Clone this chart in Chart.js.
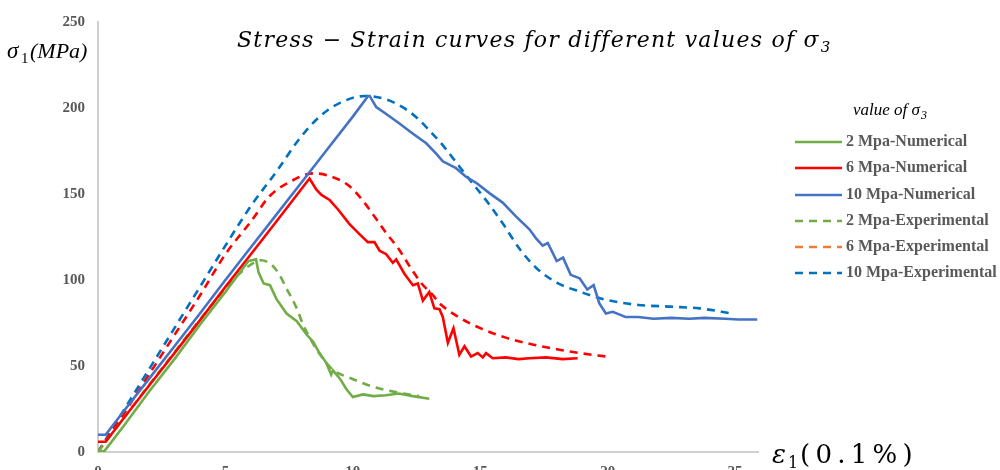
<!DOCTYPE html>
<html><head><meta charset="utf-8">
<script src="https://cdn.jsdelivr.net/npm/chart.js@4"></script>
<style>html,body{margin:0;padding:0;overflow:hidden;background:#fff}#wrap{width:1000px;height:470px;overflow:hidden}</style>
</head><body><div id="wrap"><canvas id="c" width="1000" height="490"></canvas></div>
<script>
// ---------- DATA ----------
const xTickValues = [0, 5, 10, 15, 20, 25];
const yTickValues = [0, 50, 100, 150, 200, 250];
const seriesNames = ['2 Mpa-Numerical', '6 Mpa-Numerical', '10 Mpa-Numerical',
                     '2 Mpa-Experimental', '6 Mpa-Experimental', '10 Mpa-Experimental'];

const num2X = [0, 0.25, 1, 2, 3, 4, 5, 5.9, 6.2, 6.3, 6.5, 6.75, 7.0, 7.4, 7.8, 8.2, 8.45, 8.65, 8.95, 9.15, 9.22, 9.5, 9.75, 10.0, 10.4, 10.8, 11.3, 11.8, 12.35, 13.0];
const num2Y = [0, 0.5, 15, 35, 54, 74, 93, 111, 112, 104.5, 98, 97, 89, 80.5, 76, 68, 64, 58.5, 52, 45, 47.5, 42.5, 36.5, 32, 33.5, 32.5, 33, 34, 32.5, 31];

const num6X = [0, 0.3, 1, 2, 3, 4, 5, 6, 7, 8.3, 8.57, 8.77, 9.09, 9.42, 9.87, 10.27, 10.59, 10.85, 11.05, 11.31, 11.57, 11.7, 12.03, 12.36, 12.55, 12.75, 13.0, 13.2, 13.4, 13.53, 13.73, 13.95, 14.18, 14.38, 14.64, 14.9, 15.1, 15.23, 15.49, 16.0, 16.5, 16.93, 17.58, 18.23, 18.82];
const num6Y = [6, 6, 19.5, 38.5, 57.5, 76.5, 96, 115, 134, 159, 152.5, 149.5, 146.5, 141, 132.5, 126.5, 122, 122, 117, 115, 110, 112, 103.5, 97, 98, 88, 93, 83.5, 83, 78.5, 63.5, 72, 56.5, 61.5, 55.5, 57.5, 55, 57.5, 54.5, 55, 54, 54.5, 55, 54, 54.5];

const num10X = [0, 0.3, 1, 2, 3, 4, 5, 6, 7, 8, 9, 10, 10.6, 10.66, 10.92, 11.31, 11.83, 12.36, 12.88, 13.27, 13.53, 14.05, 14.44, 14.84, 15.36, 15.88, 16.4, 16.93, 17.2, 17.45, 17.65, 18.0, 18.25, 18.55, 18.9, 19.2, 19.45, 19.67, 19.93, 20.2, 20.45, 20.7, 21.2, 21.8, 22.5, 23.2, 23.8, 24.6, 25.15, 25.87];
const num10Y = [10, 10, 23.5, 42.5, 61.5, 80.5, 100, 119, 138, 157, 176, 195, 207, 207, 200.5, 196.5, 191, 185, 179.5, 173.5, 169, 165, 160, 156.5, 150.5, 145, 137, 129.5, 124, 120, 121.5, 111, 113, 103, 101, 94.5, 97, 86.5, 80.5, 81.5, 80, 78.5, 78.5, 77.5, 78, 77.5, 78, 77.5, 77, 77];

const exp2X = [0, 1, 2, 3, 4, 5, 5.5, 6.0, 6.4, 6.8, 7.1, 7.4, 7.8, 8.05, 8.4, 8.7, 9.2, 9.9, 10.9, 11.8, 12.6];
const exp2Y = [0, 19.5, 39, 58, 77, 95, 103, 109, 111.5, 109, 103.5, 95, 83.5, 74, 64, 57, 48, 43, 37.5, 34.5, 32.5];

const exp6X = [0, 1, 2, 3, 4, 5, 6, 6.75, 7.65, 8.2, 8.5, 9.35, 9.87, 10.4, 10.8, 11.3, 11.8, 12.25, 12.7, 13.15, 13.4, 14.2, 15.0, 16.0, 17.05, 18.1, 18.9, 19.95];
const exp6Y = [0, 22, 45, 68, 91, 115, 134, 149, 158, 161.5, 162, 159, 154.5, 146, 138, 127.5, 118, 107.5, 98, 91, 86.5, 78, 72, 66.5, 62.5, 59.5, 57.5, 55.5];

const exp10X = [0, 1, 2, 3, 4, 5, 6, 7, 7.9, 8.7, 9.5, 10.5, 11.3, 11.95, 12.5, 13.0, 13.55, 14.05, 14.6, 15.25, 15.9, 16.55, 17.2, 18.0, 18.95, 19.8, 21.2, 22.5, 23.6, 24.9];
const exp10Y = [0, 24, 48, 72, 96, 120, 143, 163, 182, 195, 203, 207, 205, 200.5, 194.5, 187, 178, 168.5, 158, 146, 132.5, 118, 107, 98.5, 93, 89, 85.5, 84.5, 83.5, 80.5];

// ---------- STYLE ----------
const lineColors   = ['#70AD47', '#FF0000', '#4472C4', '#70AD47', '#FF0000', '#0070C0'];
const legendColors = ['#70AD47', '#FF0000', '#4472C4', '#70AD47', '#ED7D31', '#0070C0'];
const TXT = '#595959';
const SERIF = '"Liberation Serif", "DejaVu Serif", serif';
const WIDE_SERIF = '"DejaVu Serif", "Liberation Serif", serif';

const pts = (xs, ys) => xs.map((x, i) => ({x: x, y: ys[i]}));
const seriesData = [pts(num2X, num2Y), pts(num6X, num6Y), pts(num10X, num10Y),
                    pts(exp2X, exp2Y), pts(exp6X, exp6Y), pts(exp10X, exp10Y)];

const datasets = seriesData.map((d, i) => {
  const exp = i >= 3;
  return {
    label: seriesNames[i], data: d,
    borderColor: lineColors[i], backgroundColor: lineColors[i],
    borderWidth: 2.6, pointRadius: 0, fill: false,
    borderDash: exp ? [8, 6] : [],
    tension: exp ? 0.4 : 0,
    cubicInterpolationMode: exp ? 'monotone' : 'default'
  };
});

// draws text stretched to a target width with letter spacing; returns drawn width
function fitText(ctx, text, x, y, width) {
  ctx.save();
  const w0 = ctx.measureText(text).width;
  let w = w0;
  if (width && 'letterSpacing' in ctx) {
    const ls = (width - w0) / Math.max(1, text.length);
    ctx.letterSpacing = ls.toFixed(2) + 'px';
    w = ctx.measureText(text).width;
  }
  ctx.textAlign = 'left';
  ctx.fillText(text, x, y);
  ctx.restore();
  return w;
}

const decor = {
  id: 'decor',
  afterDraw(chart) {
    const ctx = chart.ctx;
    ctx.save();
    ctx.fillStyle = '#000';
    ctx.textBaseline = 'alphabetic';
    // Title
    ctx.font = 'italic 22px ' + WIDE_SERIF;
    let w = fitText(ctx, 'Stress \u2212 Strain curves for different values of \u03C3', 237, 47, 582);
    ctx.font = 'italic 15px ' + WIDE_SERIF;
    ctx.fillText('3', 237 + w + 1, 52);

    // Y axis title  σ1(MPa)
    ctx.font = 'italic 23px ' + SERIF;
    ctx.fillText('\u03C3', 7, 58);
    ctx.font = '15px ' + SERIF;
    ctx.fillText('1', 21, 63);
    ctx.font = 'italic 22px ' + SERIF;
    ctx.fillText('(MPa)', 30, 58);

    // X axis title ε1(0.1%)
    ctx.font = 'italic 26px ' + WIDE_SERIF;
    ctx.fillText('\u03B5', 772, 463);
    ctx.font = '16px ' + WIDE_SERIF;
    ctx.fillText('1', 788, 468);
    ctx.font = '26px ' + WIDE_SERIF;
    fitText(ctx, '(0.1%)', 800, 463, 118);

    // Legend
    ctx.fillStyle = '#000';
    ctx.font = 'italic 17px ' + SERIF;
    const lt = 'value of \u03C3';
    ctx.fillText(lt, 853, 115);
    const lw = ctx.measureText(lt).width;
    ctx.font = 'italic 12px ' + SERIF;
    ctx.fillText('3', 853 + lw + 1, 119);
    const rowY = [142, 168, 195, 221, 247, 273];
    chart.data.datasets.forEach((ds, i) => {
      const y = rowY[i];
      ctx.save();
      ctx.strokeStyle = legendColors[i];
      ctx.lineWidth = 2.5;
      ctx.setLineDash(ds.borderDash && ds.borderDash.length ? [8, 6] : []);
      ctx.beginPath();
      ctx.moveTo(795, y); ctx.lineTo(842, y);
      ctx.stroke();
      ctx.restore();
      ctx.fillStyle = TXT;
      ctx.font = 'bold 16px ' + SERIF;
      ctx.textBaseline = 'middle';
      ctx.fillText(ds.label, 846, y);
      ctx.textBaseline = 'alphabetic';
    });
    ctx.restore();
  }
};

new Chart(document.getElementById('c'), {
  type: 'line',
  data: {datasets: datasets},
  options: {
    responsive: false, animation: false,
    layout: {padding: {left: 0, top: 17, right: 242, bottom: 0}},
    plugins: {legend: {display: false}, tooltip: {enabled: false}, title: {display: false}},
    scales: {
      x: {
        type: 'linear', min: 0, max: 25.9,
        afterBuildTicks: s => { s.ticks = xTickValues.map(v => ({value: v})); },
        afterFit: s => { s.height = 38; },
        grid: {display: false, drawTicks: false},
        border: {display: true, color: '#d0d0d0', width: 2},
        ticks: {color: TXT, font: {family: SERIF, size: 15, weight: 'bold'}, padding: 11, maxRotation: 0}
      },
      y: {
        type: 'linear', min: 0, max: 250,
        afterBuildTicks: s => { s.ticks = yTickValues.map(v => ({value: v})); },
        afterFit: s => { s.width = 98; },
        grid: {display: false, drawTicks: false},
        border: {display: true, color: '#d0d0d0', width: 2},
        ticks: {color: TXT, font: {family: SERIF, size: 15, weight: 'bold'}, padding: 13}
      }
    }
  },
  plugins: [decor]
});
</script></body></html>
